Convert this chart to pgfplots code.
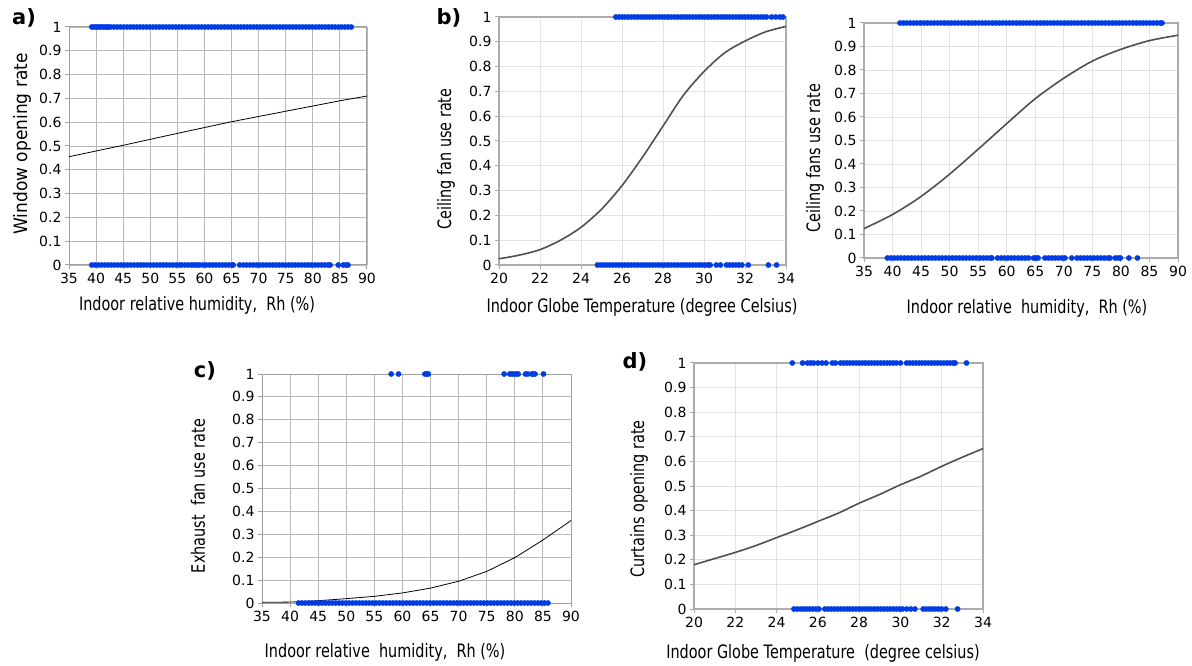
\documentclass[border=0pt]{standalone}
\usepackage{fontspec}
\setmainfont{DejaVu Sans}
\newfontfamily\labfont{DejaVu Sans}[FakeStretch=0.78]
\newfontfamily\wlabfont{DejaVu Sans}[FakeStretch=0.92]
\usepackage{pgfplots}
\pgfplotsset{compat=1.18}
\definecolor{dotblue}{RGB}{0,60,230}
\definecolor{curvegray}{RGB}{80,80,80}
\newcommand{\tickfont}{\fontsize{14}{14}\selectfont}
\newcommand{\axlab}{\labfont\fontsize{18.5}{18.5}\selectfont}
\newcommand{\waxlab}{\wlabfont\fontsize{18.5}{18.5}\selectfont}
\pgfplotsset{
  panel/.style={scale only axis, anchor=south west, clip=false,
    ymin=0, ymax=1, ytick={0,0.1,...,1}, grid=major,
    tick align=outside, xtick pos=bottom, ytick pos=left, major tick length=4pt,
    tick label style={font=\tickfont},
    /pgf/number format/assume math mode=true,
    yticklabel style={/pgf/number format/fixed, /pgf/number format/precision=1},
    xticklabel style={yshift=-1pt}},
  darkgrid/.style={grid style={gray!55, line width=0.9pt},
    axis line style={gray!75, line width=1pt}, tick style={gray!75, line width=1pt}},
  lightgrid/.style={grid style={gray!22, line width=0.8pt},
    axis line style={gray!65, line width=1.1pt}, tick style={gray!65, line width=1pt}},
  dots/.style={only marks, mark=*, mark size=2.6pt, mark options={draw=dotblue, fill=dotblue}},
  thincurve/.style={black, line width=0.8pt, mark=none},
  thickcurve/.style={curvegray, line width=1.6pt, mark=none, smooth},
}
\begin{document}
\begin{tikzpicture}
\path[use as bounding box] (0,0) rectangle (1192pt,665pt);

% a) window opening vs humidity
\begin{axis}[panel, darkgrid, at={(69pt,400pt)}, width=298pt, height=238pt,
  xmin=35, xmax=90, xtick={35,40,...,90}]
\addplot[dots] coordinates {(39.2,1)(39.6,1)(40.0,1)(40.4,1)(40.8,1)(41.2,1)(41.6,1)(42.0,1)(42.3,1)
(42.7,1)(43.3,1)(43.9,1)(44.5,1)(45.1,1)(45.7,1)(46.3,1)(46.9,1)(47.5,1)(48.1,1)(48.7,1)(49.3,1)(49.9,1)(50.5,1)(51.1,1)(51.7,1)(52.3,1)(52.9,1)(53.5,1)(54.1,1)(54.7,1)(55.3,1)(55.9,1)(56.5,1)(57.1,1)(57.7,1)(58.3,1)(58.9,1)(59.5,1)(60.1,1)(60.7,1)(61.3,1)(61.9,1)(62.5,1)(63.1,1)(63.7,1)(64.3,1)(64.9,1)(65.5,1)(66.1,1)(66.7,1)(67.3,1)(67.9,1)(68.5,1)(69.1,1)(69.7,1)(70.3,1)(70.9,1)(71.5,1)(72.1,1)(72.7,1)(73.3,1)(73.9,1)(74.5,1)(75.1,1)(75.7,1)(76.3,1)(76.9,1)(77.5,1)(78.1,1)(78.7,1)(79.3,1)(79.9,1)(80.5,1)(81.1,1)(81.7,1)(82.3,1)(82.9,1)(83.5,1)(84.1,1)(84.7,1)(85.3,1)(85.9,1)(86.5,1)(87.1,1)};
\addplot[dots] coordinates {(39.2,0)(39.8,0)(40.4,0)(41.0,0)(41.6,0)(42.2,0)(42.8,0)(43.4,0)(44.0,0)(44.6,0)(45.2,0)(45.8,0)(46.4,0)(47.0,0)(47.6,0)(48.2,0)(48.8,0)(49.4,0)(50.0,0)(50.6,0)(51.2,0)(51.8,0)(52.4,0)(53.0,0)(53.6,0)(54.2,0)(54.8,0)(55.4,0)(55.8,0)
(56.4,0)(57.0,0)(57.6,0)(58.1,0)(58.6,0)(59.1,0)(59.7,0)(60.3,0)(60.9,0)(61.5,0)(62.1,0)(62.7,0)(63.3,0)(63.9,0)(64.5,0)(65.1,0)(65.3,0)
(66.5,0)(67.2,0)(67.8,0)(68.4,0)(69.0,0)(69.6,0)(70.2,0)(70.8,0)(71.4,0)(72.0,0)(72.6,0)(73.2,0)(73.8,0)(74.4,0)(75.0,0)(75.6,0)(76.2,0)(76.8,0)(77.4,0)(78.0,0)(78.6,0)(79.2,0)(79.8,0)(80.4,0)(81.0,0)(81.6,0)(82.2,0)(82.8,0)(83.2,0)
(84.7,0)(85.6,0)(86.1,0)(86.5,0)};
\addplot[thincurve] coordinates {(35,0.455)(45,0.503)(55,0.553)(65,0.602)(70,0.624)(75,0.646)(80,0.668)(85,0.69)(90,0.71)};
\end{axis}

% b) ceiling fan vs globe temperature
\begin{axis}[panel, lightgrid, at={(499pt,400pt)}, width=287pt, height=248pt,
  xmin=20, xmax=34, xtick={20,22,...,34}]
\addplot[dots] coordinates {(25.7,1)(25.85,1)(26.0,1)(26.15,1)(26.3,1)(26.45,1)(26.6,1)(26.75,1)(26.9,1)(27.05,1)(27.2,1)(27.35,1)(27.5,1)(27.65,1)(27.8,1)(27.95,1)(28.1,1)(28.25,1)(28.4,1)(28.55,1)(28.7,1)(28.85,1)(29.0,1)(29.15,1)(29.3,1)(29.45,1)(29.6,1)(29.75,1)(29.9,1)(30.05,1)(30.2,1)(30.35,1)(30.5,1)(30.65,1)(30.8,1)(30.95,1)(31.1,1)(31.25,1)(31.4,1)(31.55,1)(31.7,1)(31.85,1)(32.0,1)(32.15,1)(32.3,1)(32.45,1)(32.6,1)(32.75,1)(32.9,1)(33.05,1)(33.3,1)(33.5,1)(33.7,1)(33.85,1)};
\addplot[dots] coordinates {(24.8,0)(24.95,0)(25.1,0)(25.25,0)(25.4,0)(25.55,0)(25.7,0)(25.85,0)(26.0,0)(26.15,0)(26.3,0)(26.45,0)(26.6,0)(26.75,0)(26.9,0)(27.05,0)(27.2,0)(27.35,0)(27.5,0)(27.65,0)(27.8,0)(27.95,0)(28.1,0)(28.25,0)(28.4,0)(28.55,0)(28.7,0)(28.85,0)(29.0,0)(29.15,0)(29.3,0)(29.45,0)(29.6,0)(29.75,0)(29.9,0)(30.05,0)(30.2,0)(30.3,0)
(30.6,0)(30.8,0)(31.1,0)(31.25,0)(31.4,0)(31.55,0)(31.7,0)(31.85,0)(32.16,0)(33.14,0)(33.54,0)};
\addplot[thickcurve] coordinates {(20,0.025)(21,0.04)(22,0.062)(23,0.1)(24,0.152)(25,0.225)(26,0.32)(27,0.435)(28,0.56)(29,0.685)(30,0.78)(31,0.855)(32,0.903)(33,0.94)(34,0.962)};
\end{axis}

% ceiling fans vs humidity
\begin{axis}[panel, lightgrid, at={(864pt,407pt)}, width=314pt, height=235pt,
  xmin=35, xmax=90, xtick={35,40,...,90}]
\addplot[dots] coordinates {(41.3,1)(41.9,1)(42.5,1)(43.1,1)(43.7,1)(44.3,1)(44.9,1)(45.5,1)(46.1,1)(46.7,1)(47.3,1)(47.9,1)(48.5,1)(49.1,1)(49.7,1)(50.3,1)(50.9,1)(51.5,1)(52.1,1)(52.7,1)(53.3,1)(53.9,1)(54.5,1)(55.1,1)(55.7,1)(56.3,1)(56.9,1)(57.5,1)(58.1,1)(58.7,1)(59.3,1)(59.9,1)(60.5,1)(61.1,1)(61.7,1)(62.3,1)(62.9,1)(63.5,1)(64.1,1)(64.7,1)(65.3,1)(65.9,1)(66.5,1)(67.1,1)(67.7,1)(68.3,1)(68.9,1)(69.5,1)(70.1,1)(70.7,1)(71.3,1)(71.9,1)(72.5,1)(73.1,1)(73.7,1)(74.3,1)(74.9,1)(75.5,1)(76.1,1)(76.7,1)(77.3,1)(77.9,1)(78.5,1)(79.1,1)(79.7,1)(80.3,1)(80.9,1)(81.5,1)(82.1,1)(82.7,1)(83.3,1)(83.9,1)(84.5,1)(85.1,1)(85.7,1)(86.3,1)(86.9,1)(87.2,1)};
\addplot[dots] coordinates {(39.1,0)(39.7,0)(40.3,0)(40.9,0)(41.5,0)(42.1,0)(42.7,0)(43.3,0)(43.9,0)(44.5,0)(45.1,0)(45.7,0)(46.3,0)(46.9,0)(47.5,0)(48.1,0)(48.7,0)(49.3,0)(49.9,0)(50.5,0)(51.1,0)(51.7,0)(52.3,0)(52.9,0)(53.5,0)(54.1,0)(54.7,0)(55.3,0)(55.9,0)(56.5,0)(57.1,0)(57.4,0)
(58.4,0)(59.0,0)(59.6,0)(60.2,0)(60.8,0)(61.4,0)(62.0,0)(62.6,0)(63.2,0)(63.8,0)(64.7,0)(65.1,0)(65.5,0)
(66.7,0)(67.3,0)(67.9,0)(68.5,0)(69.1,0)(69.7,0)(70.2,0)(71.4,0)
(72.3,0)(72.9,0)(73.5,0)(74.1,0)(74.7,0)(75.3,0)(75.9,0)(76.5,0)(77.1,0)(77.7,0)(78.1,0)(79.0,0)(79.5,0)(79.9,0)(81.4,0)(82.9,0)};
\addplot[thickcurve] coordinates {(35,0.125)(40,0.185)(45,0.262)(50,0.357)(55,0.463)(60,0.572)(65,0.678)(70,0.765)(75,0.838)(80,0.888)(85,0.925)(90,0.948)};
\end{axis}

% c) exhaust fan vs humidity
\begin{axis}[panel, darkgrid, at={(262pt,62pt)}, width=309pt, height=229pt,
  xmin=35, xmax=90, xtick={35,40,...,90}]
\addplot[dots] coordinates {(58.0,1)(59.3,1)(64.0,1)(64.3,1)(64.6,1)(78.1,1)(79.1,1)(79.5,1)(79.9,1)(80.3,1)(80.6,1)(81.9,1)(82.3,1)(83.0,1)(83.3,1)(83.6,1)(85.1,1)};
\addplot[dots] coordinates {(41.5,0)(42.1,0)(42.7,0)(43.3,0)(43.9,0)(44.5,0)(45.1,0)(45.7,0)(46.3,0)(46.9,0)(47.5,0)(48.1,0)(48.7,0)(49.3,0)(49.9,0)(50.5,0)(51.1,0)(51.7,0)(52.3,0)(52.9,0)(53.5,0)(54.1,0)(54.7,0)(55.3,0)(55.9,0)(56.5,0)(57.1,0)(57.7,0)(58.3,0)(58.9,0)(59.5,0)(60.1,0)(60.7,0)(61.3,0)(61.9,0)(62.5,0)(63.1,0)(63.7,0)(64.3,0)(64.9,0)(65.5,0)(66.1,0)(66.7,0)(67.3,0)(67.9,0)(68.5,0)(69.1,0)(69.7,0)(70.3,0)(70.9,0)(71.5,0)(72.1,0)(72.7,0)(73.3,0)(73.9,0)(74.5,0)(75.1,0)(75.7,0)(76.3,0)(76.9,0)(77.5,0)(78.1,0)(78.7,0)(79.3,0)(79.9,0)(80.5,0)(81.1,0)(81.7,0)(82.3,0)(82.9,0)(83.5,0)(84.1,0)(84.7,0)(85.3,0)(85.9,0)};
\addplot[thincurve] coordinates {(35,0.003)(40,0.004)(45,0.01)(50,0.019)(55,0.029)(60,0.044)(65,0.065)(70,0.095)(75,0.138)(80,0.198)(85,0.275)(90,0.36)};
\end{axis}

% d) curtains vs globe temperature
\begin{axis}[panel, lightgrid, at={(694pt,56pt)}, width=289pt, height=246pt,
  xmin=20, xmax=34, xtick={20,22,...,34}]
\addplot[dots] coordinates {(24.76,1)(25.26,1)(25.5,1)(25.65,1)(25.8,1)(26.0,1)(26.2,1)(26.4,1)(26.7,1)(26.85,1)(27.1,1)(27.25,1)(27.4,1)(27.55,1)(27.7,1)(27.85,1)(28.0,1)(28.15,1)(28.3,1)(28.45,1)(28.6,1)(28.75,1)(28.9,1)(29.05,1)(29.2,1)(29.35,1)(29.5,1)(29.65,1)(29.8,1)(30.0,1)(30.3,1)(30.45,1)(30.6,1)(30.75,1)(30.9,1)(31.05,1)(31.2,1)(31.35,1)(31.5,1)(31.65,1)(31.8,1)(31.95,1)(32.1,1)(32.25,1)(32.4,1)(32.55,1)(32.65,1)(33.2,1)};
\addplot[dots] coordinates {(24.84,0)(25.0,0)(25.15,0)(25.3,0)(25.45,0)(25.6,0)(25.75,0)(25.9,0)(26.05,0)(26.34,0)(26.5,0)(26.65,0)(26.8,0)(26.95,0)(27.1,0)(27.25,0)(27.4,0)(27.55,0)(27.7,0)(27.85,0)(28.0,0)(28.15,0)(28.3,0)(28.45,0)(28.6,0)(28.75,0)(28.9,0)(29.05,0)(29.2,0)(29.35,0)(29.5,0)(29.65,0)(29.8,0)(29.95,0)(30.1,0)(30.3,0)
(30.5,0)(30.7,0)(31.1,0)(31.25,0)(31.4,0)(31.55,0)(31.7,0)(31.85,0)(32.0,0)(32.2,0)(32.77,0)};
\addplot[thickcurve] coordinates {(20,0.18)(21,0.205)(22,0.23)(23,0.258)(24,0.29)(25,0.322)(26,0.356)(27,0.39)(28,0.43)(29,0.466)(30,0.505)(31,0.54)(32,0.58)(33,0.617)(34,0.652)};
\end{axis}

% axis titles and panel letters
\node[font=\axlab] at (197pt,360pt) {Indoor relative humidity,\ \ Rh (\%)};
\node[font=\waxlab, rotate=90] at (22pt,521pt) {Window opening rate};
\node[font=\axlab] at (642pt,358pt) {Indoor Globe Temperature (degree Celsius)};
\node[font=\axlab, rotate=90] at (446pt,506pt) {Ceiling fan use rate};
\node[font=\axlab] at (1027pt,357pt) {Indoor relative\ \ humidity,\ \ Rh (\%)};
\node[font=\axlab, rotate=90] at (815pt,507pt) {Ceiling fans use rate};
\node[font=\axlab] at (385pt,13pt) {Indoor relative\ \ humidity,\ \ Rh (\%)};
\node[font=\axlab, rotate=90] at (198pt,169pt) {Exhaust\ \ fan use rate};
\node[font=\axlab] at (823pt,12pt) {Indoor Globe Temperature\ \ (degree celsius)};
\node[font=\axlab, rotate=90] at (639pt,166pt) {Curtains opening rate};
\node[font=\bfseries\fontsize{21}{21}\selectfont] at (24pt,647pt) {a)};
\node[font=\bfseries\fontsize{21}{21}\selectfont] at (449pt,647pt) {b)};
\node[font=\bfseries\fontsize{21}{21}\selectfont] at (205pt,294pt) {c)};
\node[font=\bfseries\fontsize{21}{21}\selectfont] at (635pt,303pt) {d)};
\end{tikzpicture}
\end{document}
